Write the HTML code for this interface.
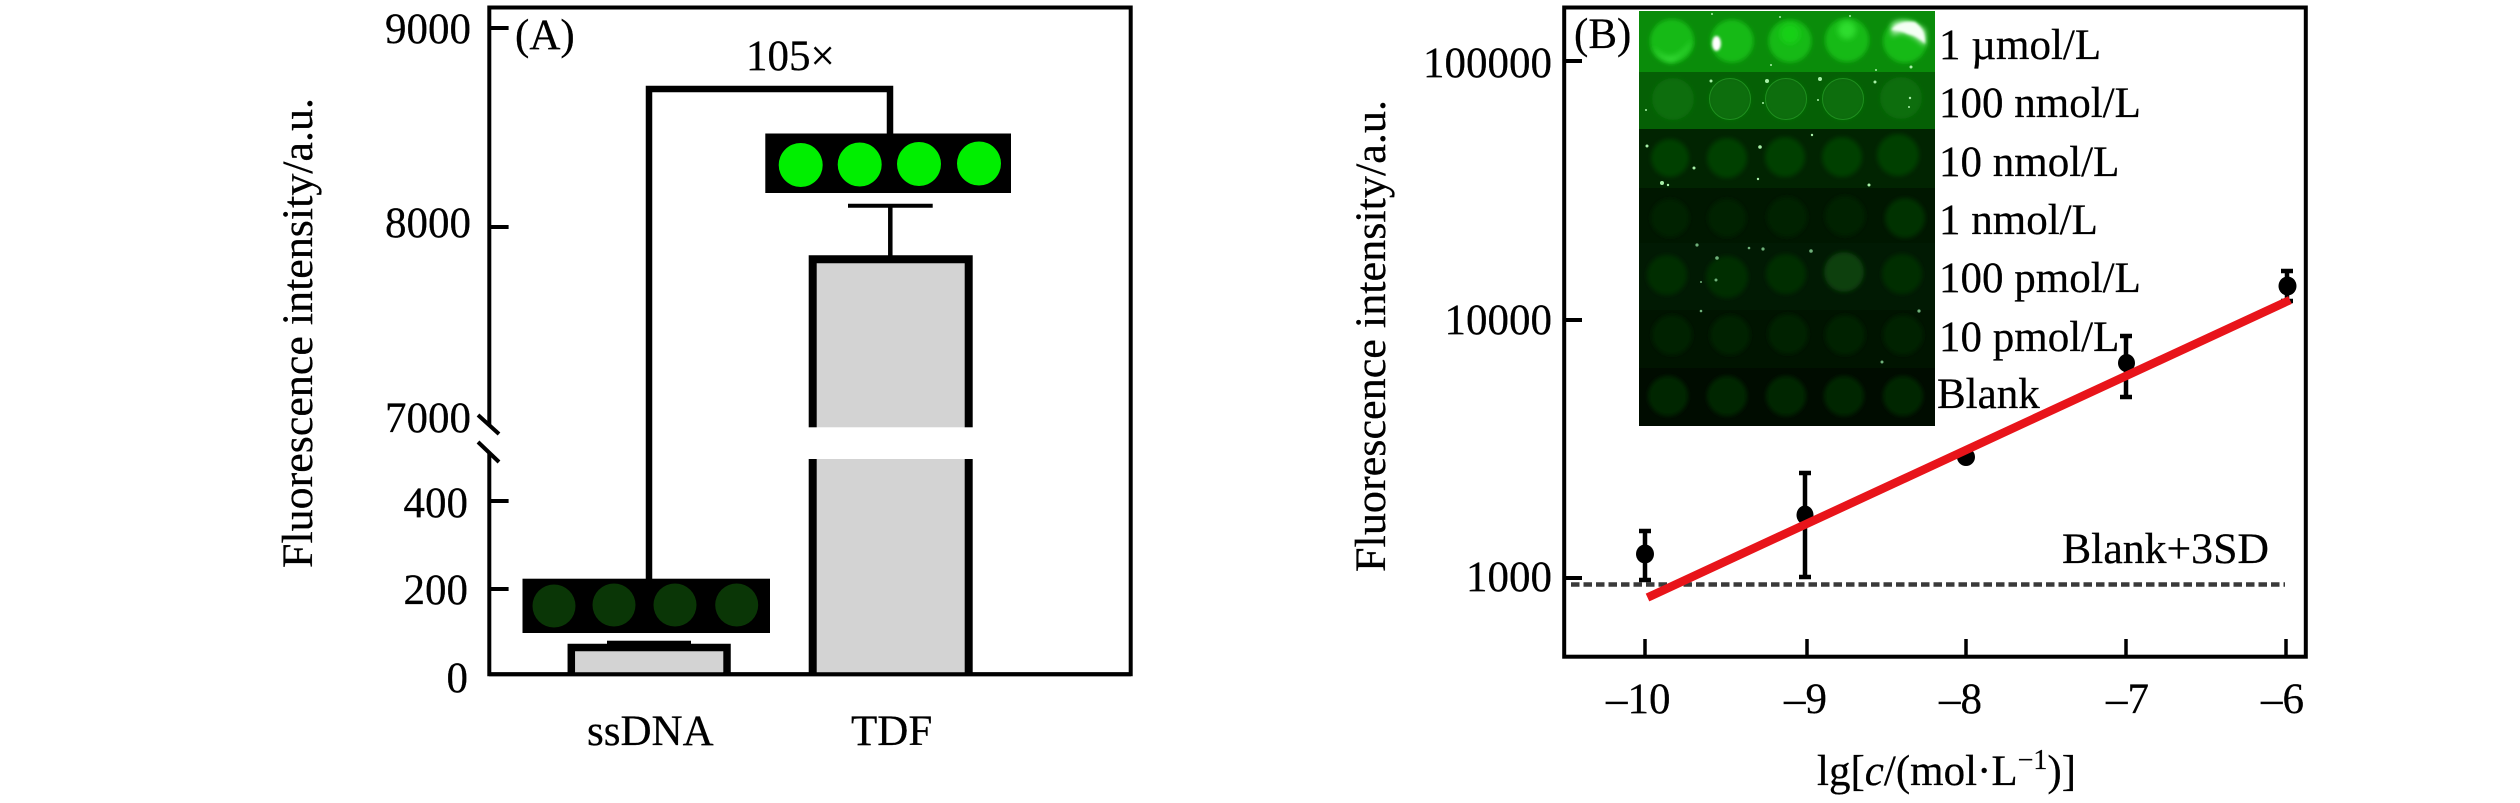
<!DOCTYPE html>
<html>
<head>
<meta charset="utf-8">
<style>
html,body{margin:0;padding:0;background:#fff;width:2520px;height:803px;overflow:hidden}
svg{display:block}
text{font-family:"Liberation Serif",serif;font-size:43px;fill:#000;stroke:#000;stroke-width:.25}
.e{text-anchor:end}
</style>
</head>
<body>
<svg width="2520" height="803" viewBox="0 0 2520 803" xmlns="http://www.w3.org/2000/svg">
<defs>
<filter id="b1" x="-30%" y="-30%" width="160%" height="160%"><feGaussianBlur stdDeviation="1.2"/></filter>
<filter id="b2" x="-30%" y="-30%" width="160%" height="160%"><feGaussianBlur stdDeviation="2"/></filter>
<filter id="b3" x="-50%" y="-50%" width="200%" height="200%"><feGaussianBlur stdDeviation="3"/></filter>
<clipPath id="ins"><rect x="1639" y="11" width="296" height="415"/></clipPath>
</defs>

<!-- PANEL A -->
<path d="M489.3 425V7.5H1130.7V674.3H489.3V453" fill="none" stroke="#000" stroke-width="4"/>
<g stroke="#000" stroke-width="4">
<line x1="489" y1="28" x2="508.6" y2="28"/>
<line x1="489" y1="227" x2="508.6" y2="227"/>
<line x1="489" y1="501" x2="508.6" y2="501"/>
<line x1="489" y1="589" x2="508.6" y2="589"/>
<line x1="478" y1="415" x2="499" y2="434"/>
<line x1="478" y1="442" x2="499" y2="462"/>
</g>
<text class="e" x="471" y="43">9000</text>
<text class="e" x="471" y="237">8000</text>
<text class="e" x="471" y="432">7000</text>
<text class="e" x="468" y="517">400</text>
<text class="e" x="468" y="604">200</text>
<text class="e" x="468" y="692">0</text>
<text x="515" y="49">(A)</text>
<text x="746" y="70">105×</text>
<text transform="translate(312,568) rotate(-90)" textLength="470" lengthAdjust="spacingAndGlyphs">Fluorescence intensity/a.u.</text>
<text x="587" y="745">ssDNA</text>
<text x="851" y="745">TDF</text>

<!-- TDF bar -->
<rect x="816" y="263" width="149" height="410" fill="#d3d3d3"/>
<path d="M812.7 674V259.3H968.7V674" fill="none" stroke="#000" stroke-width="8"/>
<rect x="800" y="427.3" width="180" height="31.7" fill="#fff"/>
<!-- TDF err -->
<line x1="890.3" y1="206" x2="890.3" y2="256" stroke="#000" stroke-width="4.5"/>
<line x1="848" y1="205.7" x2="932.7" y2="205.7" stroke="#000" stroke-width="4"/>
<!-- bracket -->
<path d="M649 579V89H890V134" fill="none" stroke="#000" stroke-width="6.5"/>
<!-- green box -->
<rect x="765.3" y="133.5" width="245.7" height="59.5" fill="#000"/>
<g fill="#00ef00">
<circle cx="800.7" cy="165" r="22"/>
<circle cx="859.7" cy="164.5" r="22"/>
<circle cx="919" cy="164" r="22"/>
<circle cx="979" cy="163.5" r="22"/>
</g>
<!-- ssDNA bar -->
<rect x="575" y="651" width="148" height="22" fill="#d3d3d3"/>
<path d="M571.3 674V647.5H727V674" fill="none" stroke="#000" stroke-width="7.5"/>
<rect x="607" y="640.7" width="84" height="4" fill="#000"/>
<line x1="489" y1="674.3" x2="1131" y2="674.3" stroke="#000" stroke-width="4"/>
<!-- dark box -->
<rect x="522.5" y="578.7" width="247.5" height="54.3" fill="#000"/>
<g fill="#0a3606">
<circle cx="554" cy="606" r="21.5"/>
<circle cx="614" cy="605" r="21.5"/>
<circle cx="675" cy="605" r="21.5"/>
<circle cx="736.7" cy="605" r="21.5"/>
</g>

<!-- PANEL B -->
<rect x="1564.2" y="7.5" width="741.6" height="649.2" fill="none" stroke="#000" stroke-width="4"/>
<g stroke="#000" stroke-width="4">
<line x1="1564" y1="61" x2="1582" y2="61"/>
<line x1="1564" y1="320" x2="1582" y2="320"/>
<line x1="1564" y1="578" x2="1582" y2="578"/>
</g>
<g stroke="#000" stroke-width="3.5">
<line x1="1645" y1="639" x2="1645" y2="656"/>
<line x1="1807" y1="639" x2="1807" y2="656"/>
<line x1="1966" y1="639" x2="1966" y2="656"/>
<line x1="2126" y1="639" x2="2126" y2="656"/>
<line x1="2286" y1="639" x2="2286" y2="656"/>
</g>
<text class="e" x="1552" y="77">100000</text>
<text class="e" x="1552" y="334">10000</text>
<text class="e" x="1552" y="591">1000</text>
<text x="1574" y="48">(B)</text>
<text transform="translate(1385,572) rotate(-90)" textLength="472" lengthAdjust="spacingAndGlyphs">Fluorescence intensity/a.u.</text>
<text x="1606" y="713">–10</text>
<text x="1784" y="713">–9</text>
<text x="1939" y="713">–8</text>
<text x="2106" y="713">–7</text>
<text x="2261" y="713">–6</text>
<text x="1817" y="785">lg[<tspan font-style="italic">c</tspan>/(mol·L<tspan font-size="28" dy="-16">−1</tspan><tspan dy="16">)]</tspan></text>
<text x="2062" y="563" textLength="207" lengthAdjust="spacingAndGlyphs">Blank+3SD</text>

<!-- dashed -->
<line x1="1571" y1="584.5" x2="2285" y2="584.5" stroke="#3a3a3a" stroke-width="4.5" stroke-dasharray="8.5 4"/>

<!-- inset -->
<g clip-path="url(#ins)">
<rect x="1639" y="11" width="296" height="61" fill="#0a8c0a"/>
<rect x="1639" y="72" width="296" height="57" fill="#056005"/>
<rect x="1639" y="129" width="296" height="59" fill="#012401"/>
<rect x="1639" y="188" width="296" height="55" fill="#001700"/>
<rect x="1639" y="243" width="296" height="67" fill="#011a03"/>
<rect x="1639" y="310" width="296" height="58" fill="#001400"/>
<rect x="1639" y="368" width="296" height="58" fill="#000c00"/>
<g filter="url(#b2)">
<g fill="#12ba12">
<circle cx="1672" cy="41" r="22"/>
<circle cx="1732" cy="41" r="21.5"/>
<circle cx="1790" cy="41" r="21.5"/>
<circle cx="1847" cy="40" r="22"/>
<circle cx="1905" cy="41" r="22"/>
</g>
<g fill="#0a6e0a">
<circle cx="1673" cy="99" r="21"/>
<circle cx="1730" cy="99" r="21"/>
<circle cx="1786" cy="99" r="21"/>
<circle cx="1843" cy="99" r="21"/>
<circle cx="1901" cy="98" r="21"/>
</g>
<g fill="#044004">
<circle cx="1670" cy="158" r="19"/>
<circle cx="1727" cy="158" r="20"/>
<circle cx="1785" cy="157" r="20"/>
<circle cx="1842" cy="157" r="20"/>
<circle cx="1898" cy="155" r="21"/>
</g>
<g fill="#022402">
<circle cx="1670" cy="218" r="19"/>
<circle cx="1727" cy="218" r="19"/>
<circle cx="1787" cy="217" r="20"/>
<circle cx="1845" cy="216" r="20"/>
</g>
<circle cx="1905" cy="218" r="20" fill="#033203"/>
<g fill="#052f06">
<circle cx="1667" cy="275" r="20"/>
<circle cx="1727" cy="277" r="21"/>
<circle cx="1786" cy="274" r="20"/>
<circle cx="1844" cy="272" r="20" fill="#083f08"/>
<circle cx="1902" cy="274" r="20"/>
</g>
<g fill="#032203">
<circle cx="1672" cy="335" r="20"/>
<circle cx="1730" cy="335" r="20"/>
<circle cx="1788" cy="334" r="20"/>
<circle cx="1845" cy="335" r="20"/>
<circle cx="1903" cy="335" r="20"/>
</g>
<g fill="#042604">
<circle cx="1668" cy="396" r="20"/>
<circle cx="1727" cy="396" r="20"/>
<circle cx="1786" cy="396" r="20"/>
<circle cx="1844" cy="396" r="20"/>
<circle cx="1903" cy="396" r="20"/>
</g>
</g>
<g fill="none" stroke="#1f8f1f" stroke-width="1">
<circle cx="1730" cy="99" r="20.5"/>
<circle cx="1786" cy="99" r="20.5"/>
<circle cx="1843" cy="99" r="20.5"/>
</g>
<g filter="url(#b3)">
<path d="M1652 46Q1672 70 1692 40Q1690 52 1672 62Q1658 60 1652 46Z" fill="#3be03b"/>
<path d="M1892 24Q1905 16 1925 30L1925 46Q1905 26 1892 36Z" fill="#c6f5c6"/>
<circle cx="1847" cy="30" r="9" fill="#2fdd2f"/>
<circle cx="1790" cy="34" r="10" fill="#17d017"/>
</g>
<g filter="url(#b1)">
<ellipse cx="1716.5" cy="43.5" rx="4.5" ry="7.5" fill="#fff"/>
<path d="M1891 30Q1900 20 1915 22Q1926 30 1925 44Q1918 36 1908 34Q1900 30 1891 30Z" fill="#f4fff4"/>
</g>
<g fill="#a8f0a8">
<circle cx="1712" cy="14" r="1"/><circle cx="1780" cy="17" r="1"/><circle cx="1850" cy="16" r="1"/>
<circle cx="1911" cy="67" r="1.5"/><circle cx="1771" cy="65" r="1"/><circle cx="1876" cy="70" r="1"/>
<circle cx="1711" cy="81" r="1.5"/><circle cx="1767" cy="81" r="2"/><circle cx="1820" cy="79" r="2"/><circle cx="1875" cy="82" r="1.5"/>
<circle cx="1646" cy="110" r="1"/><circle cx="1763" cy="103" r="1"/><circle cx="1818" cy="100" r="1"/><circle cx="1910" cy="98" r="1.2"/><circle cx="1909" cy="107" r="1"/>
<circle cx="1647" cy="146" r="1.5"/><circle cx="1760" cy="147" r="1.8"/><circle cx="1812" cy="135" r="1.2"/><circle cx="1694" cy="168" r="1.5"/>
<circle cx="1662" cy="183" r="2"/><circle cx="1668" cy="185" r="1.2"/><circle cx="1758" cy="179" r="1.2"/><circle cx="1869" cy="185" r="1.5"/>
</g>
<g fill="#6fb07a">
<circle cx="1697" cy="245" r="1.6"/><circle cx="1749" cy="248" r="1.3"/><circle cx="1763" cy="249" r="1.6"/><circle cx="1811" cy="251" r="1.8"/><circle cx="1717" cy="258" r="1.8"/><circle cx="1716" cy="280" r="1.5"/><circle cx="1701" cy="282" r="1"/><circle cx="1701" cy="311" r="1.3"/><circle cx="1919" cy="311" r="1.6"/><circle cx="1882" cy="362" r="1.5"/>
</g>
</g>

<!-- labels -->
<text x="1939" y="59">1 µmol/L</text>
<text x="1939" y="117">100 nmol/L</text>
<text x="1939" y="176">10 nmol/L</text>
<text x="1939" y="234">1 nmol/L</text>
<text x="1939" y="292">100 pmol/L</text>
<text x="1939" y="351">10 pmol/L</text>
<text x="1937" y="408">Blank</text>

<!-- error bars -->
<g stroke="#000" stroke-width="4.5" fill="none">
<path d="M1645 531V580M1639 531H1651M1639 580H1651"/>
<path d="M1805 473V577M1799 473H1811M1799 577H1811"/>
<path d="M2126 336V397M2120 336H2132M2120 397H2132"/>
<path d="M2287 271V301M2281 271H2293M2281 301H2293"/>
</g>
<g fill="#000">
<ellipse cx="1645" cy="554" rx="9" ry="9.5"/>
<ellipse cx="1805" cy="515" rx="8.5" ry="9.5"/>
<ellipse cx="1966" cy="457" rx="9" ry="9"/>
<ellipse cx="2126.5" cy="363" rx="8.5" ry="9"/>
<ellipse cx="2287.5" cy="286" rx="9" ry="9.5"/>
</g>
<!-- red line -->
<line x1="1647.5" y1="597.5" x2="2290" y2="300" stroke="#e8141a" stroke-width="8.5"/>
</svg>
</body>
</html>
